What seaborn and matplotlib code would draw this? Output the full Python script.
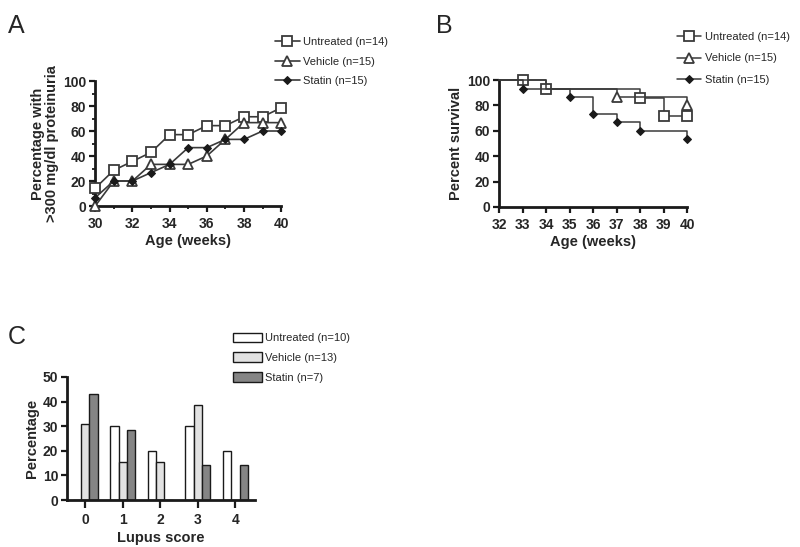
import matplotlib
matplotlib.use("Agg")
import matplotlib.pyplot as plt
import pandas as pd
import seaborn as sns
from matplotlib.ticker import MultipleLocator

# panel A: proteinuria incidence
age_a = [30, 31, 32, 33, 34, 35, 36, 37, 38, 39, 40]
prot_untreated = [14.3, 28.6, 35.7, 42.9, 57.1, 57.1, 64.3, 64.3, 71.4, 71.4, 78.6]
prot_vehicle = [0, 20, 20, 33.3, 33.3, 33.3, 40, 53.3, 66.7, 66.7, 66.7]
prot_statin = [6.7, 20, 20, 26.7, 33.3, 46.7, 46.7, 53.3, 53.3, 60, 60]

# panel B: survival (step points)
surv_t_untreated = [32, 33, 34, 38, 39, 40]
surv_untreated = [100, 100, 92.9, 85.7, 71.4, 71.4]
surv_t_vehicle = [32, 33, 34, 37, 40]
surv_vehicle = [100, 100, 93.3, 86.7, 80]
surv_t_statin = [32, 33, 35, 36, 37, 38, 40]
surv_statin = [100, 93.3, 86.7, 73.3, 66.7, 60, 53.3]

# panel C: lupus score distribution
lupus_scores = ["0", "1", "2", "3", "4"]
lupus_untreated = [0, 30, 20, 30, 20]
lupus_vehicle = [30.8, 15.4, 15.4, 38.5, 0]
lupus_statin = [42.9, 28.6, 0, 14.3, 14.3]

labels_ab = ["Untreated (n=14)", "Vehicle (n=15)", "Statin (n=15)"]
labels_c = ["Untreated (n=10)", "Vehicle (n=13)", "Statin (n=7)"]

sns.set_style("ticks")
plt.rcParams["font.family"] = ["Liberation Sans", "DejaVu Sans"]

LC = "#3a3a3a"
styles = [
    dict(marker="s", markersize=6.5, markerfacecolor="white", markeredgecolor=LC, markeredgewidth=1.3),
    dict(marker="^", markersize=7.5, markerfacecolor="white", markeredgecolor=LC, markeredgewidth=1.3),
    dict(marker="D", markersize=4, markerfacecolor="#1a1a1a", markeredgecolor="#1a1a1a"),
]

fig = plt.figure(figsize=(8, 5.47), dpi=100)


def style_axes(ax):
    for s in ["top", "right"]:
        ax.spines[s].set_visible(False)
    for s in ["left", "bottom"]:
        ax.spines[s].set_linewidth(2)
        ax.spines[s].set_color("#1a1a1a")
    ax.tick_params(which="major", direction="out", length=4.5, width=1.6,
                   labelsize=10, pad=2, color="#1a1a1a")
    ax.tick_params(axis="x", which="major", pad=3.5)
    ax.tick_params(which="minor", direction="out", length=2.5, width=1.3, color="#1a1a1a")
    for lab in ax.get_xticklabels() + ax.get_yticklabels():
        lab.set_fontweight("bold")


leg_kw = dict(frameon=False, fontsize=8, handletextpad=0.3, borderpad=0, borderaxespad=0,
              bbox_transform=fig.transFigure, loc="upper left")

# ---- A
axA = fig.add_axes([0.119, 0.6234, 0.2325, 0.2285])
for vals, lab, st in zip([prot_untreated, prot_vehicle, prot_statin], labels_ab, styles):
    sns.lineplot(x=age_a, y=vals, ax=axA, color=LC, linewidth=1.2, label=lab,
                 clip_on=False, zorder=3, **st)
axA.set_xlim(30, 40)
axA.set_ylim(0, 100)
axA.xaxis.set_major_locator(MultipleLocator(2))
axA.xaxis.set_minor_locator(MultipleLocator(1))
axA.yaxis.set_major_locator(MultipleLocator(20))
axA.yaxis.set_minor_locator(MultipleLocator(10))
axA.set_xlabel("Age (weeks)", fontsize=10.5, fontweight="bold", labelpad=2)
axA.set_ylabel("Percentage with\n>300 mg/dl proteinuria", fontsize=10.5,
               fontweight="bold", labelpad=3, linespacing=1.0)
style_axes(axA)
axA.legend(bbox_to_anchor=(0.344, 0.932), handlelength=2.2, labelspacing=0.85, **leg_kw)

# ---- B
axB = fig.add_axes([0.624, 0.6216, 0.235, 0.232])
mark_idx = [list(range(1, len(surv_t_untreated))), [3, 4], list(range(1, len(surv_t_statin)))]
for t, s, lab, st, mi in zip([surv_t_untreated, surv_t_vehicle, surv_t_statin],
                             [surv_untreated, surv_vehicle, surv_statin], labels_ab, styles, mark_idx):
    sns.lineplot(x=t, y=s, ax=axB, color=LC, linewidth=1.1, drawstyle="steps-post",
                 markevery=mi, label=lab, clip_on=False, zorder=3, **st)
axB.set_xlim(32, 40)
axB.set_ylim(0, 100)
axB.xaxis.set_major_locator(MultipleLocator(1))
axB.yaxis.set_major_locator(MultipleLocator(20))
axB.set_xlabel("Age (weeks)", fontsize=10.5, fontweight="bold", labelpad=2)
axB.set_ylabel("Percent survival", fontsize=10.5, fontweight="bold", labelpad=3)
style_axes(axB)
axB.legend(bbox_to_anchor=(0.846, 0.942), handlelength=2.2, labelspacing=1.05, **leg_kw)

# ---- C
df_c = pd.DataFrame({
    "score": lupus_scores * 3,
    "pct": lupus_untreated + lupus_vehicle + lupus_statin,
    "group": [labels_c[0]] * 5 + [labels_c[1]] * 5 + [labels_c[2]] * 5,
})
axC = fig.add_axes([0.084, 0.0859, 0.235, 0.2249])
sns.barplot(data=df_c, x="score", y="pct", hue="group", ax=axC, width=0.67,
            palette=["white", "#e2e2e2", "#858585"], edgecolor="#1a1a1a",
            linewidth=1.0, saturation=1)
axC.set_xlim(-0.48, 4.53)
axC.set_ylim(0, 50)
axC.yaxis.set_major_locator(MultipleLocator(10))
axC.set_xlabel("Lupus score", fontsize=10.5, fontweight="bold", labelpad=3)
axC.set_ylabel("Percentage", fontsize=10.5, fontweight="bold", labelpad=3)
style_axes(axC)
axC.tick_params(axis="x", which="major", length=6)
axC.legend(bbox_to_anchor=(0.291, 0.392), handlelength=2.6, handleheight=0.9,
           labelspacing=0.85, **leg_kw)

# panel letters
fig.text(0.01, 0.975, "A", fontsize=18, va="top")
fig.text(0.545, 0.975, "B", fontsize=18, va="top")
fig.text(0.01, 0.405, "C", fontsize=18, va="top")

fig.savefig("out.png", dpi=100)
plt.close(fig)
